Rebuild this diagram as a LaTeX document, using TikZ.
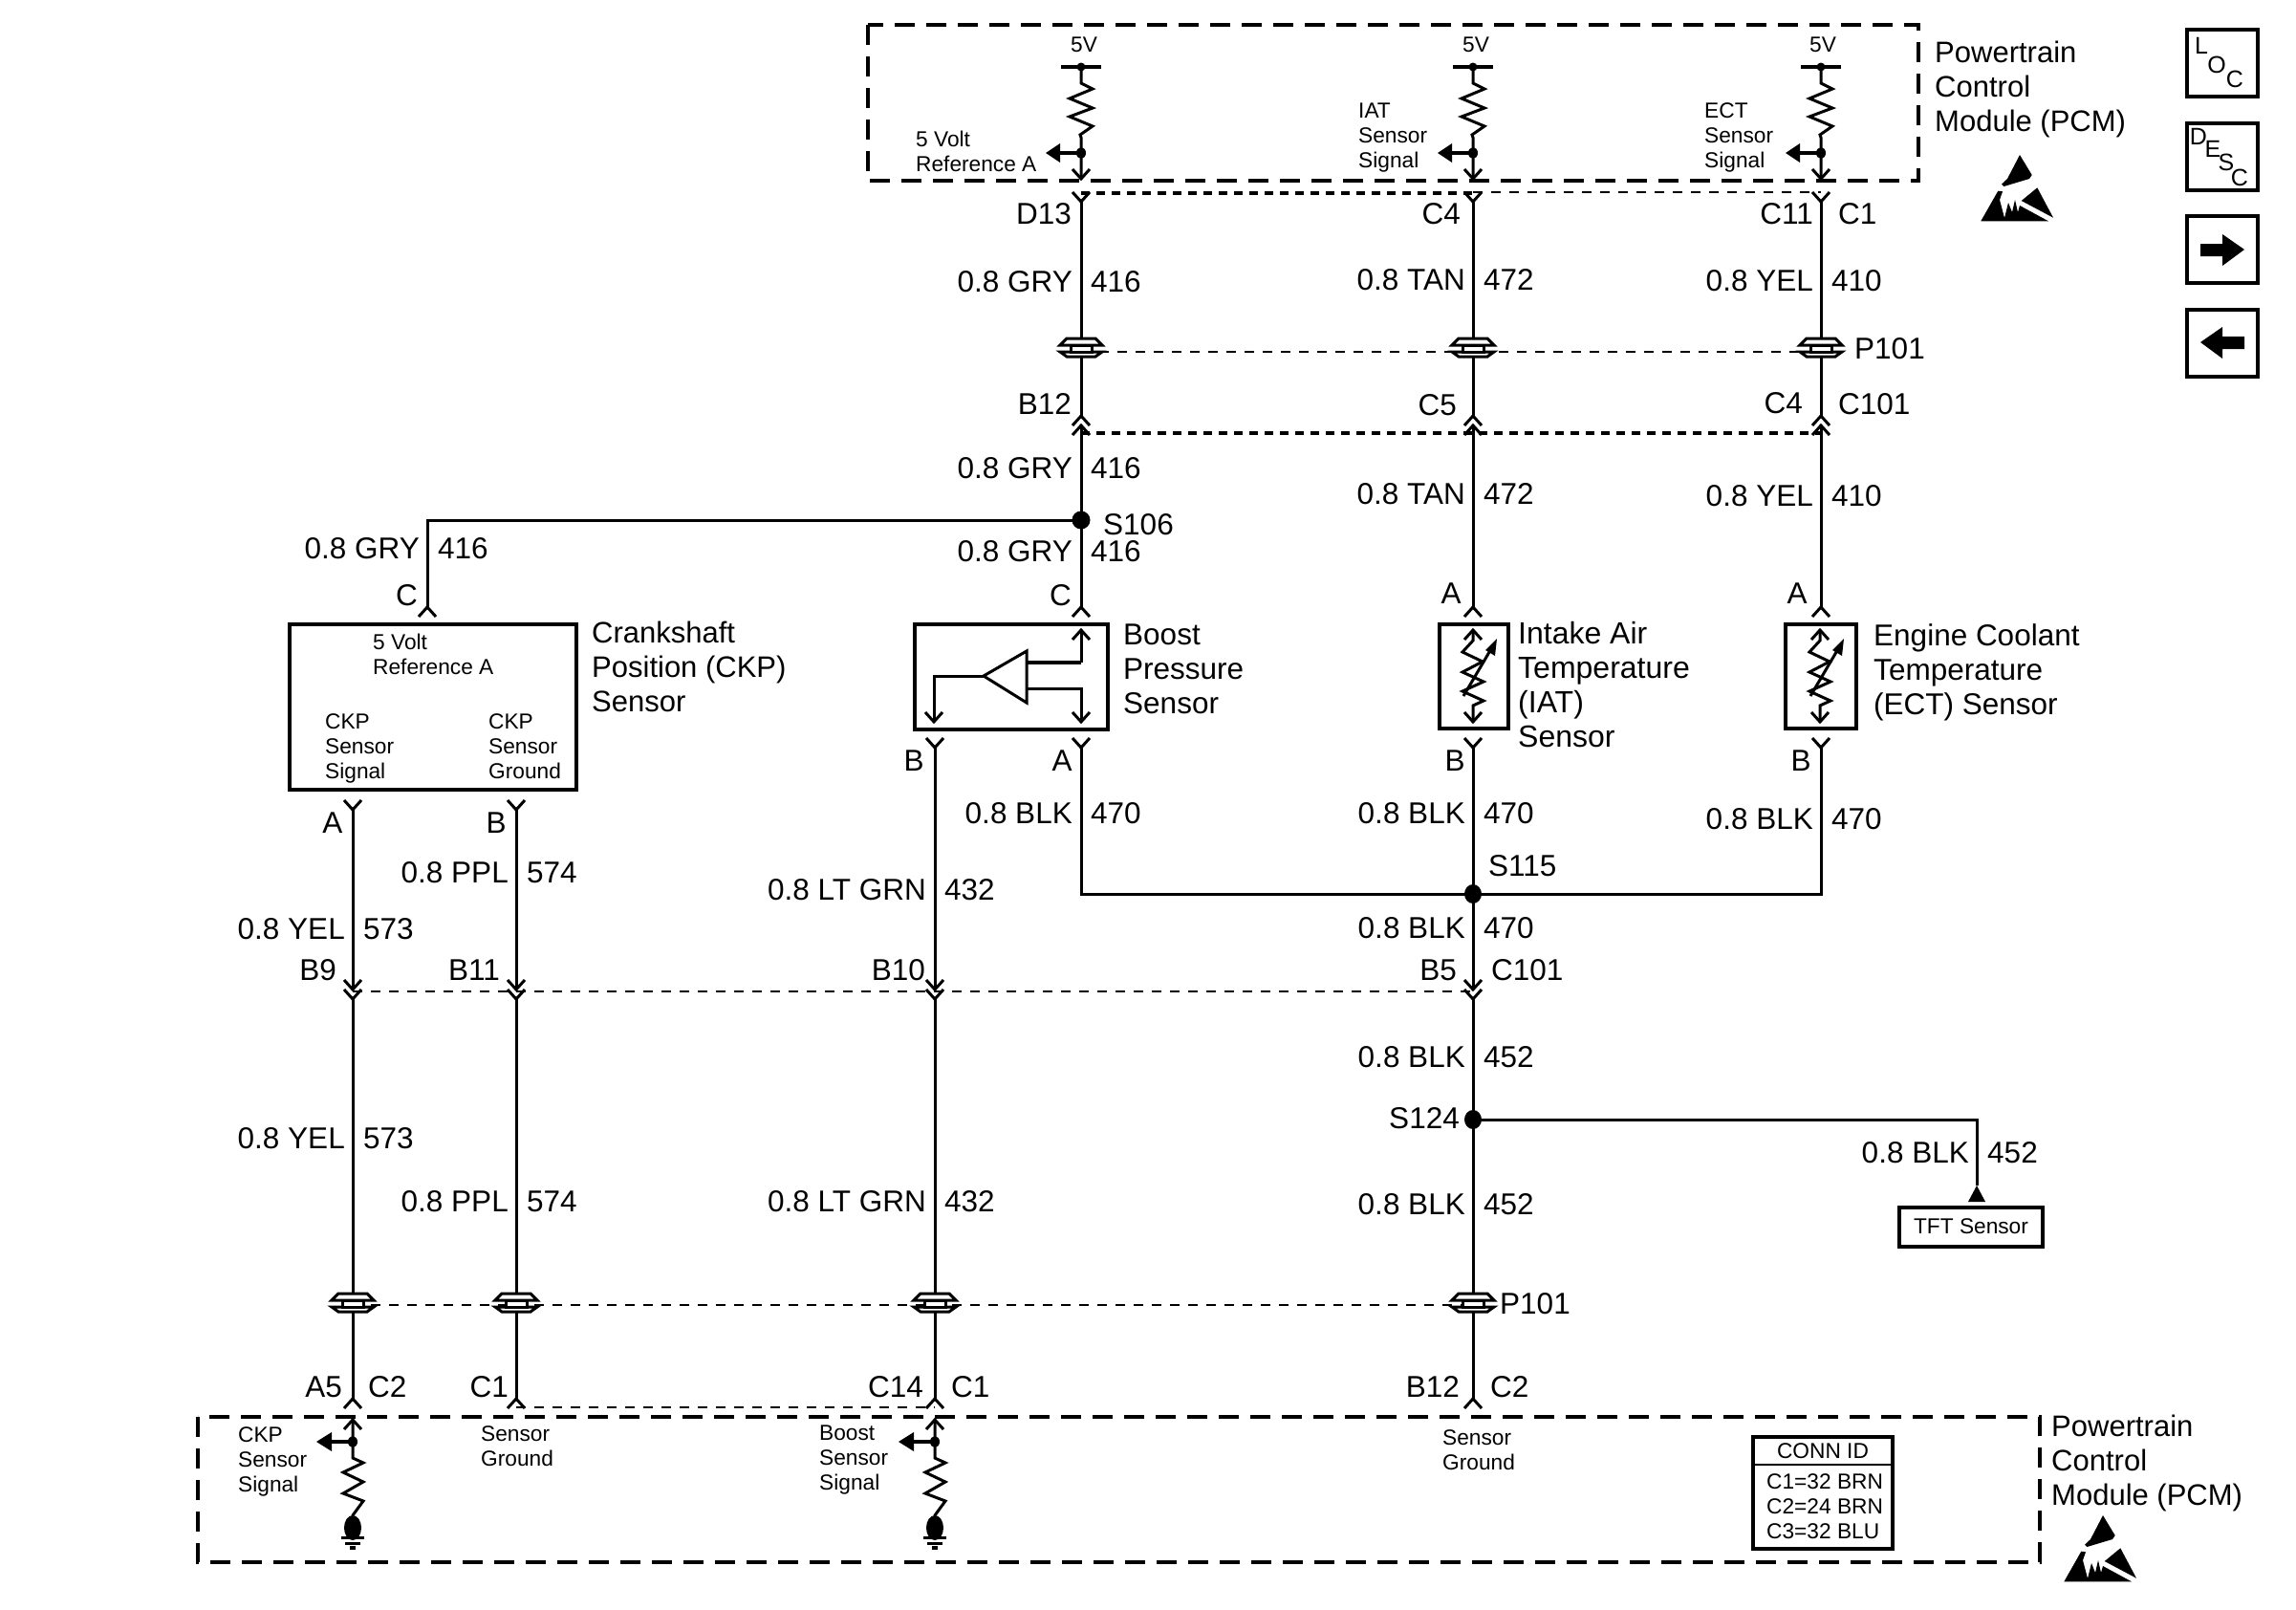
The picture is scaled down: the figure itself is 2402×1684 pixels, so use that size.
\documentclass[tikz,border=0pt]{standalone}
\usepackage{fontspec}
\setmainfont{Liberation Sans}
\newcount\lbn
\tikzset{
  wire/.style={line width=3pt,line join=miter},
  modbox/.style={draw,line width=4pt,dash pattern=on 21pt off 12pt},
  tiedash/.style={line width=2.2pt,dash pattern=on 10pt off 9pt},
  tiedot/.style={line width=3.4pt,dash pattern=on 9pt off 7pt},
  wtxt/.style={font=\fontsize{31.5}{36}\selectfont,inner sep=0pt,text height=22pt,text depth=0pt},
  btxt/.style={font=\fontsize{31}{36}\selectfont,inner sep=0pt,align=left,anchor=north west,yshift=1.5pt},
  stxt/.style={font=\fontsize{22.7}{26}\selectfont,inner sep=0pt,align=left,anchor=north west,yshift=1.5pt},
  ctxt/.style={font=\fontsize{22.7}{26}\selectfont,inner sep=0pt,text height=16pt,text depth=0pt,yshift=1.5pt},
  navtxt/.style={font=\fontsize{25}{26}\selectfont,inner sep=0pt,text height=17pt,text depth=0pt},
  solidbox/.style={draw,line width=4.5pt,inner sep=0pt,fill=white},
  navbox/.style={draw,line width=3.6pt,inner sep=0pt,minimum width=74pt,minimum height=70pt},
  chevup/.pic={\draw[wire] (-9,10)--(0,0)--(9,10);},
  chevdn/.pic={\draw[wire] (-9,-10)--(0,0)--(9,-10);},
  splice/.pic={
    \draw[line width=3pt,fill=white] (-15,-9)--(15,-9)--(22,-2)--(-22,-2)--cycle;
    \draw[line width=3pt,fill=white] (-22,5)--(22,5)--(15,10)--(-15,10)--cycle;
    \draw[line width=3pt,fill=white] (-11,-2) rectangle (11,5);
  },
  pcmtop/.pic={
    \draw[line width=4.5pt] (-21,70)--(21,70);
    \fill (0,70) circle (4.5);
    \draw[wire] (0,70)--(0,87)--(12,93)--(-12,103)--(12,113)--(-12,122)--(12,132)--(-1,141)--(0,144)--(0,187);
    \fill (0,160) ellipse (5 and 6);
    \draw[line width=4.5pt] (0,160)--(-24,160);
    \fill (-37,160)--(-22,150)--(-22,170)--cycle;
    \path (0,187) pic {chevdn};
  },
  pcmlow/.pic={
    \draw[wire] (0,1485)--(0,1525)--(11,1530)--(-10,1540)--(11,1550)--(-10,1562)--(11,1570)--(0,1585)--(0,1598);
    \path (0,1485) pic {chevup};
    \fill (0,1508) ellipse (5 and 6);
    \draw[line width=4.5pt] (0,1508)--(-24,1508);
    \fill (-38,1508)--(-22,1498)--(-22,1518)--cycle;
    \fill (0,1598) ellipse (9 and 13);
    \draw[line width=3pt] (-12,1608)--(12,1608) (-8,1614)--(8,1614);
    \fill (-3,1617) rectangle (3,1621);
  },
  thermo/.pic={
    \draw[wire] (0,6)--(0,17)--(-11,29)--(10,39)--(-11,50)--(11,60)--(-11,70)--(11,80)--(0,85)--(0,102);
    \path (0,6) pic {chevup};
    \path (0,102) pic {chevdn};
    \draw[wire] (-10,75)--(20,24);
    \fill (25,15)--(13,27)--(23,33)--cycle;
  },
  esd/.pic={
    \fill (0,0)--(12.7,21)--(10,25)--(-16.7,33)--(-19,30.7)--(-13,25)--cycle;
    \fill (-40.7,69.3)--(-22.7,37.7)--(-18,38.3)--(-21,47)--(-16,66)--(-12,50)--(-8,60)--(-5,47)--(-2,60)--(0,53)--(30,69.3)--cycle;
    \fill (18.3,34.3)--(35,65.7)--(1.7,48)--cycle;
  }
}
\newcommand\WL[4]{\global\advance\lbn by 1
  \node[wtxt,anchor=east] (wl\the\lbn) at (\the\numexpr#1-8\relax,#2) {#3};
  \node[wtxt,anchor=west] (wr\the\lbn) at (\the\numexpr#1+11\relax,#2) {#4};}
\newcommand\PR[3]{\global\advance\lbn by 1
  \node[wtxt,anchor=east] (pr\the\lbn) at (#1,#2) {#3};}
\newcommand\PL[3]{\global\advance\lbn by 1
  \node[wtxt,anchor=west] (pl\the\lbn) at (#1,#2) {#3};}
\newcommand\PC[3]{\global\advance\lbn by 1
  \node[ctxt] (pc\the\lbn) at (#1,#2) {#3};}
\newcommand\NV[3]{\global\advance\lbn by 1
  \node[navtxt] (nv\the\lbn) at (#1,#2) {#3};}
\newcommand\SM[3]{\global\advance\lbn by 1
  \node[stxt] (sm\the\lbn) at (#1,#2) {#3};}
\begin{document}
\begin{tikzpicture}[x=1pt,y=-1pt]
\useasboundingbox (0,0) rectangle (2402,1684);
\fill[white] (0,0) rectangle (2402,1684);

% module outlines
\draw[modbox] (908,26) rectangle (2007,189);
\draw[modbox] (207,1482) rectangle (2134,1634);

% named wire points
\foreach \n/\x in {a/1131,b/1541,c/1905}{
  \coordinate (\n top) at (\x,211);
  \coordinate (\n up) at (\x,435);
  \coordinate (\n dn) at (\x,445);
  \coordinate (\n sens) at (\x,635);
}
\coordinate (s106) at (1131,544);
\coordinate (ckpc) at (447,635);
\coordinate (ckpcorner) at (447,544);

% top PCM tie lines
\draw[tiedot] (1131,202)--(1541,202);
\draw[tiedash] (1541,201)--(1905,201);
\draw[tiedash] (1131,368)--(1905,368);
\draw[tiedot] (1131,453)--(1905,453);

% upper wires
\foreach \n in {a,b,c}{
  \draw[wire] (\n top)--(\n up);
  \draw[wire] (\n dn)--(\n sens);
  \pic at (\n top) {chevdn};
  \pic at (\n up) {chevup};
  \pic at (\n dn) {chevup};
  \pic at (\n sens) {chevup};
}
\draw[wire] (ckpc)--(ckpcorner)--(s106);
\pic at (ckpc) {chevup};
\fill (s106) circle (9.5);

\foreach \x in {1131,1541,1905}{
  \pic at (\x,0) {pcmtop};
  \pic at (\x,363) {splice};
}

% sensors
\node[solidbox,minimum width=300pt,minimum height=173pt] (ckp) at (453,739.5) {};
\node[solidbox,minimum width=202pt,minimum height=110pt] (boost) at (1058,708) {};
\node[solidbox,minimum width=72pt,minimum height=109pt] (iat) at (1542,707.5) {};
\node[solidbox,minimum width=74pt,minimum height=109pt] (ect) at (1905,707.5) {};
\pic at (1541,653) {thermo};
\pic at (1904,653) {thermo};
% boost amplifier
\draw[wire] (1029,707)--(1074,681)--(1074,735)--cycle;
\draw[line width=4pt] (1074,693)--(1131,693);
\draw[wire] (1131,693)--(1131,659);
\draw[wire] (1074,720)--(1131,720)--(1131,755);
\draw[wire] (1029,707)--(977,707)--(977,755);
\pic at (1131,659) {chevup};
\pic at (1131,755) {chevdn};
\pic at (977,755) {chevdn};

% lower wires
\coordinate (s115) at (1541,935);
\coordinate (s124) at (1541,1171);
\draw[wire] (1131,782)--(1131,935)--(1905,935)--(1905,782);
\draw[wire] (1541,782)--(1541,1035);
\draw[wire] (1541,1045)--(1541,1463);
\foreach \x in {1131,1541,1905}{\pic at (\x,782) {chevdn};}
\fill (s115) ellipse (9 and 10);

\draw[tiedash] (369,1037)--(1541,1037);
\draw[tiedash] (369,1365)--(1542,1365);
\draw[tiedash] (540,1472)--(978,1472);

\foreach \x/\t in {369/847,540/847,978/782}{
  \draw[wire] (\x,\t)--(\x,1035);
  \draw[wire] (\x,1045)--(\x,1463);
  \pic at (\x,\t) {chevdn};
  \pic at (\x,1045) {chevdn};
  \pic at (\x,1035) {chevdn};
  \pic at (\x,1463) {chevup};
  \pic at (\x,1362) {splice};
}
\pic at (1541,1035) {chevdn};
\pic at (1541,1045) {chevdn};
\pic at (1541,1463) {chevup};
\pic at (1541,1362) {splice};
\pic at (369,0) {pcmlow};
\pic at (978,0) {pcmlow};

% S124 and TFT
\node[solidbox,minimum width=150pt,minimum height=41pt] (tft) at (2062,1283.5) {};
\coordinate (tfttip) at (2068,1240);
\coordinate (s124c) at (2068,1171);
\draw[wire] (s124)--(s124c)--(tfttip);
\fill (tfttip)--(2077,1257)--(2059,1257)--cycle;
\fill (s124) ellipse (9 and 10);
\PC{2062}{1284}{TFT Sensor}

% CONN ID
\node[solidbox,minimum width=146pt,minimum height=117pt] (conn) at (1907,1561.5) {};
\draw[line width=2.5pt] (conn.west |- 0,1532)--(conn.east |- 0,1532);
\PC{1907}{1519}{CONN ID}
\SM{1848}{1543}{C1=32 BRN\\C2=24 BRN\\C3=32 BLU}

% nav icons
\node[navbox] (loc) at (2325,66) {};
\node[navbox] (desc) at (2325,164) {};
\node[navbox] (fwd) at (2325,261) {};
\node[navbox] (back) at (2325,359) {};
\NV{2303}{48}{L}
\NV{2319}{68}{O}
\NV{2338}{83}{C}
\NV{2300}{143}{D}
\NV{2315}{156}{E}
\NV{2329}{170}{S}
\NV{2343}{186}{C}
\fill (2302,255)--(2325,255)--(2325,245)--(2348,261)--(2325,278)--(2325,268)--(2302,268)--cycle;
\fill (2302,358)--(2325,342)--(2325,352)--(2348,352)--(2348,365)--(2325,365)--(2325,375)--cycle;

% ESD symbols
\pic at (2113,162) {esd};
\pic at (2200,1585) {esd};

% module and sensor names
\node[btxt] (pcmname) at (2024,44) {Powertrain\\Control\\Module (PCM)};
\node[btxt] (pcmnameb) at (2146,1481) {Powertrain\\Control\\Module (PCM)};
\node[btxt] (ckpname) at (619,651) {Crankshaft\\Position (CKP)\\Sensor};
\node[btxt,font=\fontsize{31.5}{36}\selectfont] (boostname) at (1175,654) {Boost\\Pressure\\Sensor};
\node[btxt,font=\fontsize{32}{36}\selectfont] (iatname) at (1588,652) {Intake Air\\Temperature\\(IAT)\\Sensor};
\node[btxt,font=\fontsize{31.5}{36}\selectfont] (ectname) at (1960,654) {Engine Coolant\\Temperature\\(ECT) Sensor};

% small texts
\foreach \x in {1134,1544,1907}{\global\advance\lbn by 1 \node[ctxt] (v\the\lbn) at (\x,48) {5V};}
\SM{958}{138}{5 Volt\\Reference A}
\SM{1421}{109}{IAT\\Sensor\\Signal}
\SM{1783}{109}{ECT\\Sensor\\Signal}
\SM{390}{664}{5 Volt\\Reference A}
\SM{340}{748}{CKP\\Sensor\\Signal}
\SM{511}{748}{CKP\\Sensor\\Ground}
\SM{249}{1494}{CKP\\Sensor\\Signal}
\SM{503}{1493}{Sensor\\Ground}
\SM{857}{1492}{Boost\\Sensor\\Signal}
\SM{1509}{1497}{Sensor\\Ground}

% pin labels
\PR{1121}{223}{D13}
\PR{1528}{223}{C4}
\PR{1897}{223}{C11}
\PL{1923}{223}{C1}
\PL{1940}{364}{P101}
\PR{1121}{422}{B12}
\PR{1524}{423}{C5}
\PR{1886}{421}{C4}
\PL{1923}{422}{C101}
\PL{1154}{548}{S106}
\PR{437}{622}{C}
\PR{1121}{622}{C}
\node[wtxt] (pa1) at (1518,620) {A};
\node[wtxt] (pa2) at (1880,620) {A};
\node[wtxt] (pb1) at (956,795) {B};
\node[wtxt] (pa3) at (1111,795) {A};
\node[wtxt] (pb2) at (1522,795) {B};
\node[wtxt] (pb3) at (1884,795) {B};
\node[wtxt] (pa4) at (348,860) {A};
\node[wtxt] (pb4) at (519,860) {B};
\PL{1557}{905}{S115}
\PR{352}{1014}{B9}
\PR{523}{1014}{B11}
\PR{968}{1014}{B10}
\PR{1524}{1014}{B5}
\PL{1560}{1014}{C101}
\PR{1527}{1169}{S124}
\PL{1569}{1363}{P101}
\PR{358}{1450}{A5}
\PL{385}{1450}{C2}
\PR{532}{1450}{C1}
\PR{966}{1450}{C14}
\PL{995}{1450}{C1}
\PR{1527}{1450}{B12}
\PL{1559}{1450}{C2}

% wire labels
\WL{1130}{294}{0.8 GRY}{416}
\WL{1541}{292}{0.8 TAN}{472}
\WL{1905}{293}{0.8 YEL}{410}
\WL{1130}{489}{0.8 GRY}{416}
\WL{1541}{516}{0.8 TAN}{472}
\WL{1905}{518}{0.8 YEL}{410}
\WL{447}{573}{0.8 GRY}{416}
\WL{1130}{576}{0.8 GRY}{416}
\WL{1130}{850}{0.8 BLK}{470}
\WL{1541}{850}{0.8 BLK}{470}
\WL{1905}{856}{0.8 BLK}{470}
\WL{540}{912}{0.8 PPL}{574}
\WL{977}{930}{0.8 LT GRN}{432}
\WL{369}{971}{0.8 YEL}{573}
\WL{1541}{970}{0.8 BLK}{470}
\WL{1541}{1105}{0.8 BLK}{452}
\WL{369}{1190}{0.8 YEL}{573}
\WL{2068}{1205}{0.8 BLK}{452}
\WL{540}{1256}{0.8 PPL}{574}
\WL{977}{1256}{0.8 LT GRN}{432}
\WL{1541}{1259}{0.8 BLK}{452}
\end{tikzpicture}
\end{document}
